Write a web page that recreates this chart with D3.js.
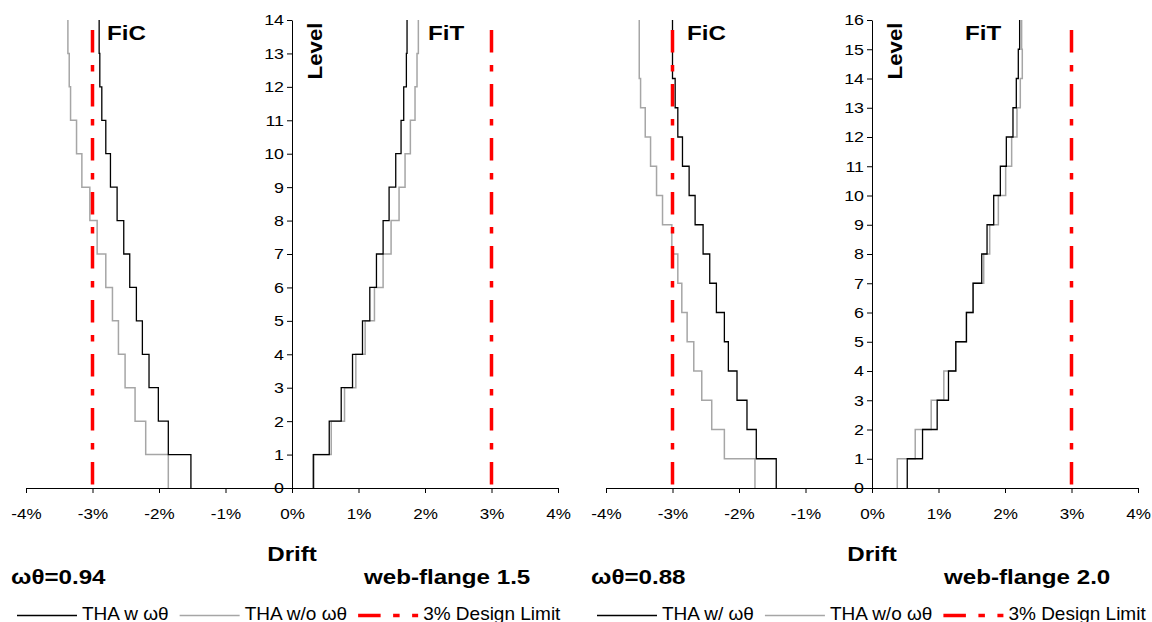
<!DOCTYPE html>
<html>
<head>
<meta charset="utf-8">
<script src="https://cdn.jsdelivr.net/npm/d3@7"></script>
<style>
  body { margin: 0; background: #fff; }
  svg text { font-family: "Liberation Sans", Arial, sans-serif; fill: #000; }
</style>
</head>
<body>
<svg id="chart" width="1152" height="622"></svg>
<script>
// drift ticks (%)
const driftTicks = [-4, -3, -2, -1, 0, 1, 2, 3, 4];
const levelTicksA = [0, 1, 2, 3, 4, 5, 6, 7, 8, 9, 10, 11, 12, 13, 14];
const levelTicksB = [0, 1, 2, 3, 4, 5, 6, 7, 8, 9, 10, 11, 12, 13, 14, 15, 16];

// web-flange 1.5 panel: story drift per level (story 1 at bottom)
const ficWithA    = [-1.52, -1.86, -2.01, -2.15, -2.25, -2.34, -2.44, -2.53, -2.63, -2.73, -2.80, -2.86, -2.89, -2.90];
const ficWithoutA = [-1.86, -2.20, -2.36, -2.51, -2.61, -2.70, -2.80, -2.93, -3.04, -3.16, -3.24, -3.33, -3.35, -3.37];
const fitWithA    = [0.32, 0.56, 0.74, 0.91, 1.06, 1.17, 1.27, 1.37, 1.46, 1.56, 1.64, 1.68, 1.72, 1.73];
const fitWithoutA = [0.33, 0.59, 0.79, 0.96, 1.10, 1.24, 1.37, 1.49, 1.61, 1.70, 1.78, 1.85, 1.88, 1.90];

// web-flange 2.0 panel
const ficWithB    = [-1.44, -1.74, -1.88, -2.03, -2.16, -2.22, -2.34, -2.44, -2.54, -2.66, -2.75, -2.85, -2.92, -2.96, -3.00, -3.00];
const ficWithoutB = [-1.76, -2.22, -2.41, -2.56, -2.68, -2.78, -2.86, -2.92, -3.01, -3.15, -3.24, -3.33, -3.41, -3.48, -3.50, -3.50];
const fitWithB    = [0.53, 0.76, 0.98, 1.15, 1.26, 1.42, 1.52, 1.65, 1.73, 1.83, 1.93, 2.02, 2.12, 2.17, 2.20, 2.22];
const fitWithoutB = [0.38, 0.65, 0.89, 1.08, 1.26, 1.42, 1.52, 1.68, 1.77, 1.90, 2.01, 2.10, 2.18, 2.23, 2.26, 2.25];

// 3% design limit: drift and the level its line reaches
const designLimit = [-3, 3];
const limitTopA = 13.7;
const limitTopB = 15.66;

const legendLabelsA = ['THA w ωθ', 'THA w/o ωθ', '3% Design Limit'];
const legendLabelsB = ['THA w/ ωθ', 'THA w/o ωθ', '3% Design Limit'];

const svg = d3.select('#chart');
const pct = d => d + '%';
const limitDash = '22.5,12.5,6.5,12.5';
const seriesStyle = [
  { color: '#000000', width: 1.3, dash: null },
  { color: '#a6a6a6', width: 1.5, dash: null },
  { color: '#ff0000', width: 3.5, dash: limitDash }
];
// the original text is a little wider than Arial
const stretch = 1.15;
const tickStretch = 1.1;

// vertical segment per story, horizontal jog at each floor
function stepPoints(values) {
  const pts = [];
  values.forEach((v, i) => {
    pts.push([v, i]);
    pts.push([v, i + 1]);
  });
  return pts;
}

function drawPanel(cfg) {
  const g = svg.append('g').attr('transform', `translate(${cfg.left},0)`);

  const x = d3.scaleLinear().domain([-4, 4]).range([26, 558]);
  const y = d3.scaleLinear().domain([0, cfg.levelTicks[cfg.levelTicks.length - 1]]).range([488, 20]);

  // x axis
  g.append('g')
    .attr('transform', `translate(0,${y(0)})`)
    .call(d3.axisBottom(x).tickValues(driftTicks).tickFormat(pct)
      .tickSizeInner(5).tickSizeOuter(0).tickPadding(15))
    .call(a => a.selectAll('text').attr('font-size', '15.5px')
      .attr('transform', `scale(${tickStretch},1)`));

  // y axis sits at 0% drift
  g.append('g')
    .attr('transform', `translate(${x(0)},0)`)
    .call(d3.axisLeft(y).tickValues(cfg.levelTicks)
      .tickSizeInner(5).tickSizeOuter(0).tickPadding(2))
    .call(a => a.selectAll('text').attr('font-size', '15.5px')
      .attr('transform', `scale(${stretch},1)`));

  g.selectAll('.domain, .tick line').attr('stroke', '#000');
  g.selectAll('.tick text').attr('font-family', '"Liberation Sans", Arial, sans-serif');

  const line = d3.line().x(d => x(d[0])).y(d => y(d[1]));

  const series = [
    { values: cfg.ficWithout, style: seriesStyle[1] },
    { values: cfg.fitWithout, style: seriesStyle[1] },
    { values: cfg.ficWith, style: seriesStyle[0] },
    { values: cfg.fitWith, style: seriesStyle[0] }
  ];
  g.selectAll('.step')
    .data(series)
    .enter()
    .append('path')
    .attr('class', 'step')
    .attr('fill', 'none')
    .attr('stroke', d => d.style.color)
    .attr('stroke-width', d => d.style.width)
    .attr('d', d => line(stepPoints(d.values)));

  g.selectAll('.limit')
    .data(designLimit)
    .enter()
    .append('path')
    .attr('class', 'limit')
    .attr('fill', 'none')
    .attr('stroke', seriesStyle[2].color)
    .attr('stroke-width', seriesStyle[2].width)
    .attr('stroke-dasharray', limitDash)
    .attr('d', d => line([[d, cfg.limitTop], [d, 0]]));

  // panel labels
  const bold = (txt, px, py, anchor) => g.append('text')
    .attr('transform', `translate(${px},${py}) scale(${stretch},1)`)
    .attr('text-anchor', anchor || 'start')
    .attr('font-size', '21px')
    .attr('font-weight', 'bold')
    .text(txt);

  bold('FiC', cfg.ficLabelX, 40);
  bold('FiT', cfg.fitLabelX, 40);
  bold('Drift', x(0), 561, 'middle');
  bold(cfg.omegaLabel, 11, 584);
  bold(cfg.webLabel, 364, 584);
  g.append('text')
    .attr('transform', `translate(${x(0) + 30},51) rotate(-90) scale(1.06,1)`)
    .attr('text-anchor', 'middle')
    .attr('font-size', '21px')
    .attr('font-weight', 'bold')
    .text('Level');

  // legend
  let lx = 17;
  const ly = 615.5;
  cfg.legendLabels.forEach((label, i) => {
    const st = seriesStyle[i];
    g.append('line')
      .attr('x1', lx).attr('x2', lx + 60)
      .attr('y1', ly).attr('y2', ly)
      .attr('stroke', st.color)
      .attr('stroke-width', st.width)
      .attr('stroke-dasharray', st.dash);
    const t = g.append('text')
      .attr('x', lx + 65).attr('y', 619.5)
      .attr('font-size', '19px')
      .text(label);
    lx += 65 + t.node().getComputedTextLength() + 11;
  });
}

drawPanel({
  left: 0,
  levelTicks: levelTicksA,
  ficWith: ficWithA, ficWithout: ficWithoutA,
  fitWith: fitWithA, fitWithout: fitWithoutA,
  limitTop: limitTopA,
  ficLabelX: 107, fitLabelX: 428,
  omegaLabel: 'ωθ=0.94', webLabel: 'web-flange 1.5',
  legendLabels: legendLabelsA
});

drawPanel({
  left: 580,
  levelTicks: levelTicksB,
  ficWith: ficWithB, ficWithout: ficWithoutB,
  fitWith: fitWithB, fitWithout: fitWithoutB,
  limitTop: limitTopB,
  ficLabelX: 107, fitLabelX: 385,
  omegaLabel: 'ωθ=0.88', webLabel: 'web-flange 2.0',
  legendLabels: legendLabelsB
});
</script>
</body>
</html>
